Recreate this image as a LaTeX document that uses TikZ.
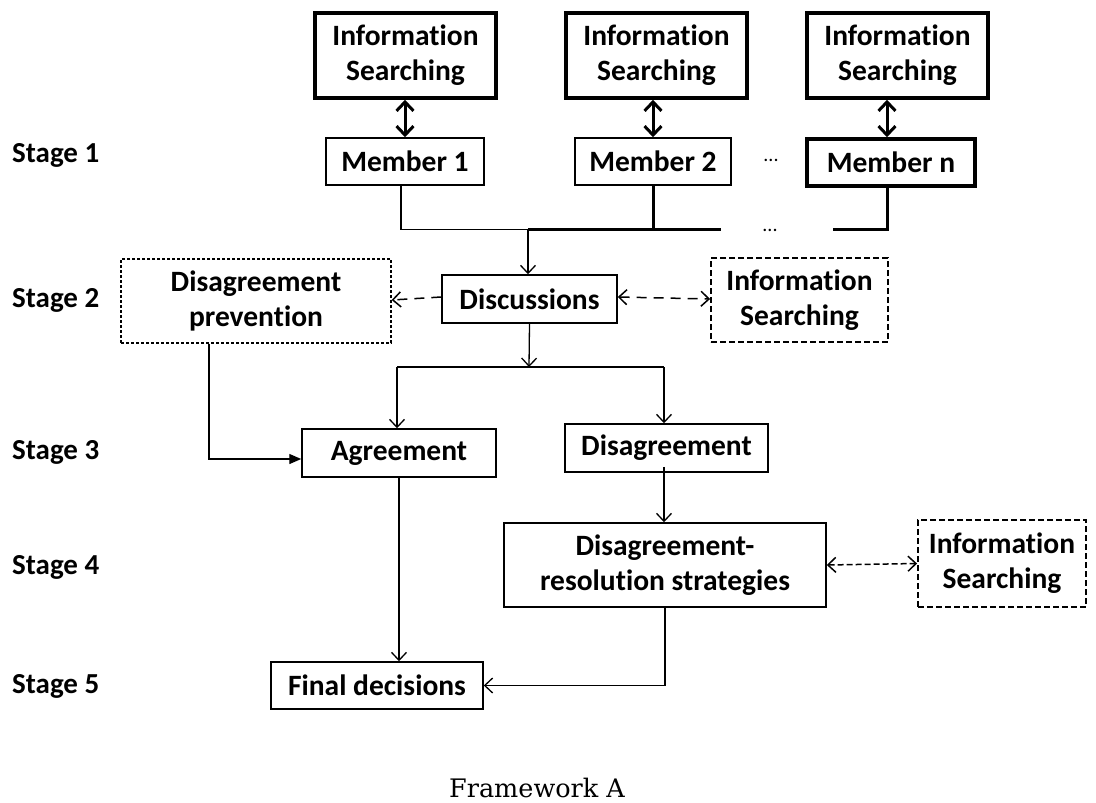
\documentclass[tikz,border=0pt]{standalone}
\usepackage{fontspec}
\setmainfont{Carlito}[Ligatures=NoCommon]
\newfontfamily\capfont{DejaVu Serif}
\usetikzlibrary{arrows.meta}
\begin{document}
\begin{tikzpicture}[x=1pt,y=-1pt,
  lbl/.style={font=\fontsize{29}{34}\selectfont\bfseries, inner sep=0pt, anchor=west},
  box/.style={draw, line width=1.5pt, inner sep=0pt, align=center,
    font=\fontsize{29.5}{35}\selectfont\bfseries},
  thickbox/.style={box, line width=3.5pt},
  finedash/.style={box, line width=1.3pt, dash pattern=on 3pt off 2pt},
  meddash/.style={box, line width=1.8pt, dash pattern=on 6pt off 3pt},
  thin/.style={line width=1.3pt},
  heavy/.style={line width=3pt},
  arr/.style={thin, -{Straight Barb[length=8pt,width=15pt,line width=1.3pt]}},
  farr/.style={thin, -{Triangle[length=12pt,width=10pt]}},
  dbl/.style={heavy, {Straight Barb[length=9pt,width=17pt,line width=3pt]}-{Straight Barb[length=9pt,width=17pt,line width=3pt]}},
  dasharr/.style={line width=1.5pt, dash pattern=on 10pt off 7pt},
  shortdash/.style={line width=1.5pt, dash pattern=on 6pt off 3pt},
  openend/.style={-{Straight Barb[length=8pt,width=15pt,line width=1.5pt]}},
  openboth/.style={{Straight Barb[length=8pt,width=15pt,line width=1.5pt]}-{Straight Barb[length=8pt,width=15pt,line width=1.5pt]}}
]
\useasboundingbox (0,0) rectangle (1096,803);

% stage labels
\node[lbl] (s1) at (12,155) {Stage 1};
\node[lbl] (s2) at (12,300) {Stage 2};
\node[lbl] (s3) at (12,452) {Stage 3};
\node[lbl] (s4) at (12,567) {Stage 4};
\node[lbl] (s5) at (12,686) {Stage 5};

% stage 1
\node[thickbox, minimum width=181pt, minimum height=85pt] (is1) at (405.5,55.5) {Information\\Searching};
\node[thickbox, minimum width=181pt, minimum height=85pt] (is2) at (656.5,55.5) {Information\\Searching};
\node[thickbox, minimum width=181pt, minimum height=85pt] (is3) at (897.5,55.5) {Information\\Searching};
\node[box, minimum width=158pt, minimum height=47pt] (m1) at (405,161.5) {Member 1};
\node[box, minimum width=156pt, minimum height=47pt] (m2) at (653,161.5) {Member 2};
\node[thickbox, minimum width=168pt, minimum height=47pt] (mn) at (891,162.5) {Member n};
\node[font=\fontsize{20}{20}\selectfont, inner sep=0pt] (dots1) at (771,160) {...};
\node[font=\fontsize{20}{20}\selectfont, inner sep=0pt] (dots2) at (770,230) {...};

\draw[dbl] (m1.north) -- (m1.north |- is1.south);
\draw[dbl] (m2.north) -- (m2.north |- is2.south);
\draw[dbl] ([xshift=-4pt]mn.north) -- ([xshift=-4pt]mn.north |- is3.south);

\coordinate (j) at (528,229.5);
\coordinate (e1) at (721,229.5);
\coordinate (e2) at (833,229.5);
\draw[thin] ([xshift=-4pt]m1.south) |- (j);
\draw[heavy] (m2.south) -- (m2.south |- j);
\draw[heavy] (j) -- (e1);
\draw[heavy, line join=miter] (e2) -| ([xshift=-4pt]mn.south);

% stage 2
\node[box, minimum width=175pt, minimum height=48pt] (disc) at (529.5,299) {Discussions};
\node[finedash, minimum width=270pt, minimum height=84pt] (dp) at (256,301) {Disagreement\\prevention};
\node[meddash, minimum width=177pt, minimum height=84pt] (ism) at (799.5,300) {Information\\Searching};
\draw[arr] (j) -- (j |- disc.north);
\draw[dasharr, openend] ([yshift=2pt]disc.west) -- ([yshift=1pt]dp.east);
\draw[dasharr, openboth] ([yshift=2pt]disc.east) -- ([yshift=1pt]ism.west);

% stage 3
\coordinate (sp) at (529,367);
\node[box, minimum width=194pt, minimum height=48pt] (agr) at (399,453) {Agreement};
\node[box, minimum width=203pt, minimum height=48pt] (dis) at (666.5,448) {Disagreement};
\draw[arr] (disc.south) -- (sp);
\coordinate (spl) at (397,367);
\coordinate (spr) at (664,367);
\draw[thin] (spl) -- (spr);
\draw[arr] (spl) -- (spl |- agr.north);
\draw[arr] (spr) -- (spr |- dis.north);
\coordinate (dpb) at (209,459);
\draw[farr] (dp.south -| dpb) |- (dpb -| agr.west);

% stage 4
\node[box, minimum width=322pt, minimum height=84pt] (drs) at (665,565) {Disagreement-\\resolution strategies};
\node[meddash, minimum width=168pt, minimum height=87pt] (isr) at (1002,563.5) {Information\\Searching};
\draw[arr] ([yshift=6pt]dis.south -| spr) -- (spr |- drs.north);
\draw[shortdash, openboth] (drs.east) -- (isr.west);

% stage 5
\node[box, minimum width=212pt, minimum height=47pt] (fin) at (377,685.5) {Final decisions};
\draw[arr] (agr.south) -- (agr.south |- fin.north);
\draw[arr] (drs.south) |- (fin.east);

\node[font=\capfont\fontsize{25.5}{28}\selectfont, inner sep=0pt, anchor=base] (cap) at (537,797) {Framework A};
\end{tikzpicture}
\end{document}
